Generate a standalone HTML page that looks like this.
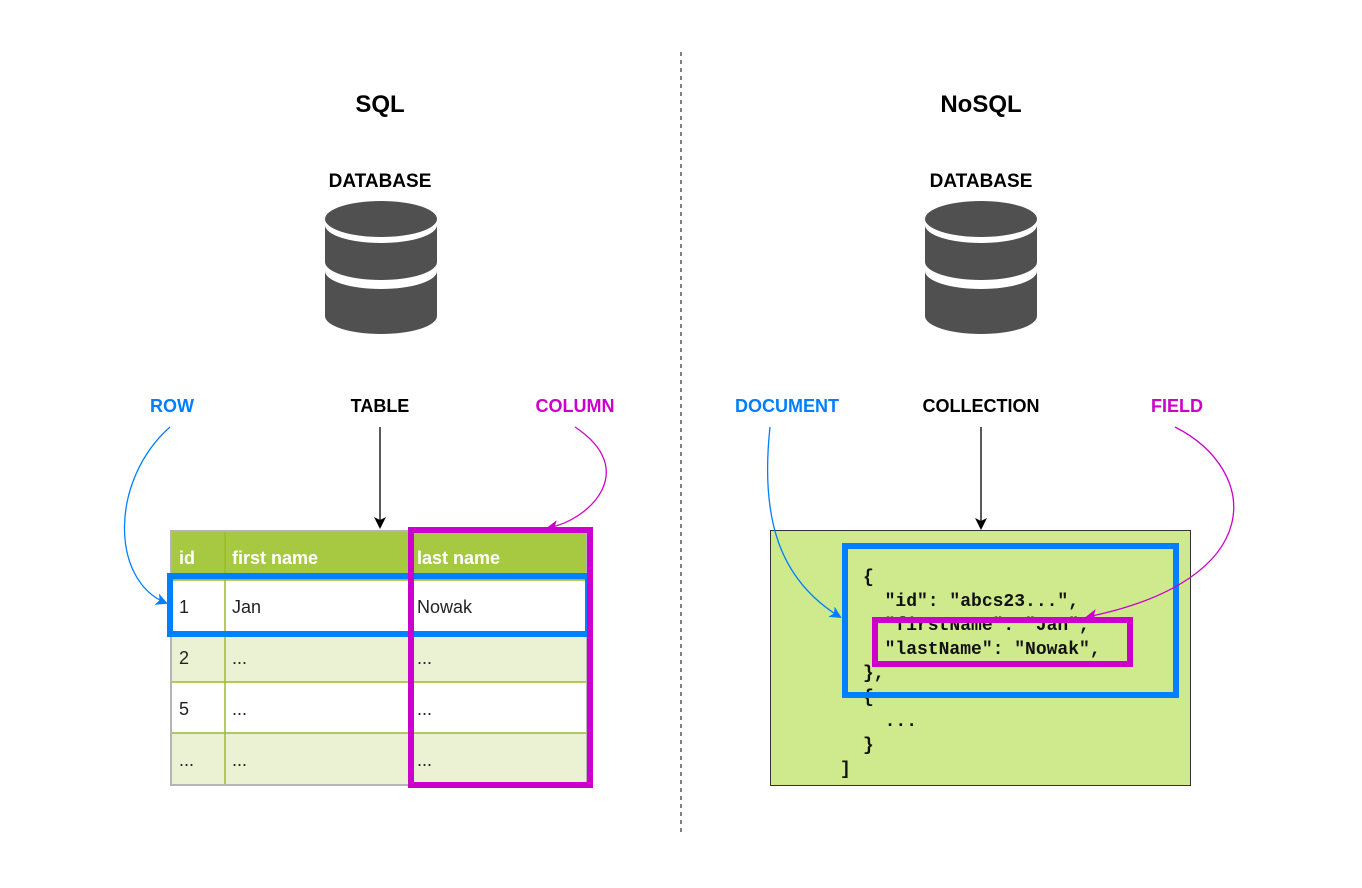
<!DOCTYPE html>
<html><head><meta charset="utf-8"><style>
body{margin:0;background:#fff;}
svg text{font-family:"Liberation Sans",sans-serif;}
svg text.code{font-family:"Liberation Mono",monospace;font-weight:bold;font-size:18px;fill:#111;}
</style></head><body>
<svg width="1362" height="883" viewBox="0 0 1362 883" xmlns="http://www.w3.org/2000/svg">
<defs>
<marker id="ab" markerWidth="12" markerHeight="12" refX="10" refY="6" orient="auto" markerUnits="userSpaceOnUse"><path d="M0,0 L12,6 L0,12 L3,6 Z" fill="#000"/></marker>
<marker id="abl" markerWidth="12" markerHeight="12" refX="10" refY="6" orient="auto" markerUnits="userSpaceOnUse"><path d="M0,0 L12,6 L0,12 L3,6 Z" fill="#007FFF"/></marker>
<marker id="am" markerWidth="12" markerHeight="12" refX="10" refY="6" orient="auto" markerUnits="userSpaceOnUse"><path d="M0,0 L12,6 L0,12 L3,6 Z" fill="#CC00CC"/></marker>
<g id="db">
<ellipse cx="0" cy="219" rx="56" ry="18" fill="#505050"/>
<path d="M-56,225 A56,18 0 0 0 56,225 V262 A56,18 0 0 1 -56,262 Z" fill="#505050"/>
<path d="M-56,271 A56,18 0 0 0 56,271 V316 A56,18 0 0 1 -56,316 Z" fill="#505050"/>
</g>
</defs>
<line x1="681" y1="52" x2="681" y2="832" stroke="#000" stroke-dasharray="4,4" stroke-width="1"/>
<text x="380" y="112" font-size="24" font-weight="bold" text-anchor="middle">SQL</text>
<text x="981" y="112" font-size="24" font-weight="bold" text-anchor="middle">NoSQL</text>
<text x="380" y="187" font-size="19" font-weight="bold" text-anchor="middle">DATABASE</text>
<text x="981" y="187" font-size="19" font-weight="bold" text-anchor="middle">DATABASE</text>
<use href="#db" x="381" y="0"/>
<use href="#db" x="981" y="0"/>
<text x="172" y="412" font-size="18" font-weight="bold" fill="#007FFF" text-anchor="middle">ROW</text>
<text x="380" y="412" font-size="18" font-weight="bold" text-anchor="middle">TABLE</text>
<text x="575" y="412" font-size="18" font-weight="bold" fill="#CC00CC" text-anchor="middle">COLUMN</text>
<text x="787" y="412" font-size="18" font-weight="bold" fill="#007FFF" text-anchor="middle">DOCUMENT</text>
<text x="981" y="412" font-size="18" font-weight="bold" text-anchor="middle">COLLECTION</text>
<text x="1177" y="412" font-size="18" font-weight="bold" fill="#CC00CC" text-anchor="middle">FIELD</text>
<line x1="380" y1="427" x2="380" y2="527" stroke="#000" stroke-width="1.3" marker-end="url(#ab)"/>
<line x1="981" y1="427" x2="981" y2="528" stroke="#000" stroke-width="1.3" marker-end="url(#ab)"/>
<path d="M170,427 C110,480 110,580 166,603" fill="none" stroke="#007FFF" stroke-width="1.3" marker-end="url(#abl)"/>
<path d="M575,427 C640,470 590,520 548,528" fill="none" stroke="#CC00CC" stroke-width="1.3" marker-end="url(#am)"/>
<rect x="171" y="531" width="416" height="254" fill="#fff" stroke="#b5b5b5" stroke-width="2"/>
<rect x="172" y="532" width="414" height="48" fill="#A7C942"/>
<rect x="172" y="632" width="414" height="50" fill="#EAF2D3"/>
<rect x="172" y="733" width="414" height="51" fill="#EAF2D3"/>
<g stroke="#9BBB2A" stroke-width="1.5">
<line x1="172" y1="580" x2="586" y2="580"/><line x1="172" y1="632" x2="586" y2="632"/>
<line x1="172" y1="682" x2="586" y2="682"/><line x1="172" y1="733" x2="586" y2="733"/>
<line x1="225" y1="532" x2="225" y2="784"/><line x1="410" y1="532" x2="410" y2="784"/>
</g>
<g font-size="18" fill="#fff" font-weight="bold">
<text x="179" y="564">id</text><text x="232" y="564">first name</text><text x="417" y="564">last name</text>
</g>
<g font-size="18" fill="#222">
<text x="179" y="613">1</text><text x="232" y="613">Jan</text><text x="417" y="613">Nowak</text>
<text x="179" y="664">2</text><text x="232" y="664">...</text><text x="417" y="664">...</text>
<text x="179" y="715">5</text><text x="232" y="715">...</text><text x="417" y="715">...</text>
<text x="179" y="766">...</text><text x="232" y="766">...</text><text x="417" y="766">...</text>
</g>
<rect x="170" y="576" width="418" height="58" fill="none" stroke="#007FFF" stroke-width="6"/>
<rect x="411" y="530" width="179" height="255" fill="none" stroke="#CC00CC" stroke-width="6"/>
<rect x="770.5" y="530.5" width="420" height="255" fill="#CFE98D" stroke="#333" stroke-width="1"/>
<text class="code" x="863" y="582">{</text>
<text class="code" x="863" y="606" xml:space="preserve">  "id": "abcs23...",</text>
<text class="code" x="863" y="630" xml:space="preserve">  "firstName": "Jan",</text>
<text class="code" x="863" y="654" xml:space="preserve">  "lastName": "Nowak",</text>
<text class="code" x="863" y="678">},</text>
<text class="code" x="863" y="702">{</text>
<text class="code" x="863" y="726" xml:space="preserve">  ...</text>
<text class="code" x="863" y="750">}</text>
<text class="code" x="840" y="774">]</text>
<rect x="845" y="546" width="331" height="149" fill="none" stroke="#007FFF" stroke-width="6"/>
<rect x="875" y="620" width="255" height="44" fill="none" stroke="#CC00CC" stroke-width="6"/>
<path d="M770,427 C760,520 780,580 840,617" fill="none" stroke="#007FFF" stroke-width="1.3" marker-end="url(#abl)"/>
<path d="M1175,427 C1260,470 1270,580 1087,617" fill="none" stroke="#CC00CC" stroke-width="1.3" marker-end="url(#am)"/>
</svg>
</body></html>
